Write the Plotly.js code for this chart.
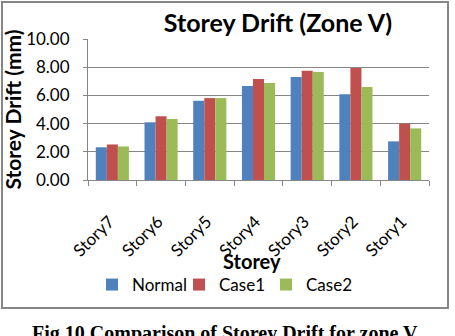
<!DOCTYPE html>
<html>
<head>
<meta charset="utf-8">
<script src="https://cdn.plot.ly/plotly-3.0.1.min.js"></script>
<style>
  html, body { margin: 0; padding: 0; background: #fff; }
  #chart { width: 455px; height: 336px; }
</style>
</head>
<body>
<div id="chart"></div>
<script>
// Storey drift per storey (mm), zone V
const storeys = ["Story7", "Story6", "Story5", "Story4", "Story3", "Story2", "Story1"];
const normal = [2.32, 4.09, 5.62, 6.66, 7.31, 6.09, 2.74];
const case1  = [2.52, 4.52, 5.81, 7.16, 7.74, 7.95, 4.00];
const case2  = [2.38, 4.33, 5.81, 6.88, 7.66, 6.59, 3.66];
const yTicks = [0, 2, 4, 6, 8, 10];
const yTickText = ["0.00", "2.00", "4.00", "6.00", "8.00", "10.00"];

const font = "Lato, 'Open Sans', sans-serif";
const serif = "Liberation Serif";
const axisGrey = "#868686";

// pixel frame of the plot area inside the 455x336 canvas
const W = 455, H = 336;
const L = 88, R = 429, T = 39, B = 180;
const px = x => (x - L) / (R - L);
const py = y => (B - y) / (B - T);

const mk = (name, y, color) => ({
  type: "bar", name: name, x: storeys, y: y,
  marker: { color: color, line: { width: 0 } },
  hoverinfo: "x+y+name"
});

const data = [
  mk("Normal", normal, "#4F81BD"),
  mk("Case1", case1, "#C0504D"),
  mk("Case2", case2, "#9BBB59")
];

const layout = {
  width: W, height: H,
  margin: { l: L, r: W - R, t: T, b: H - B, pad: 0 },
  paper_bgcolor: "#fff", plot_bgcolor: "#fff",
  font: { family: font, color: "#000" },
  barmode: "group", bargap: 0.32, bargroupgap: 0,
  showlegend: true,
  title: {
    text: "<b>Storey Drift (Zone V)</b>",
    font: { family: font, size: 25, color: "#000" },
    xref: "container", x: 278 / W, xanchor: "center",
    yref: "container", y: 1 - 23 / H, yanchor: "middle"
  },
  xaxis: {
    type: "category",
    tickangle: -45,
    tickson: "boundaries",
    ticks: "outside", ticklen: 5, tickcolor: axisGrey,
    ticklabelstandoff: 24, ticklabelshift: -3,
    showline: true, linecolor: axisGrey, linewidth: 1,
    showgrid: false,
    tickfont: { family: font, size: 17, color: "#000" }
  },
  yaxis: {
    range: [0, 10],
    tickvals: yTicks, ticktext: yTickText,
    ticks: "outside", ticklen: 4, tickcolor: axisGrey,
    ticklabelstandoff: 10,
    showline: true, linecolor: axisGrey, linewidth: 1,
    showgrid: true, gridcolor: axisGrey, gridwidth: 1,
    zeroline: false,
    tickfont: { family: font, size: 17, color: "#000" },
    title: { text: "<b>Storey Drift (mm)</b>", font: { family: font, size: 21, color: "#000" }, standoff: 4 }
  },
  legend: {
    orientation: "h",
    x: px(92), xanchor: "left",
    y: py(285), yanchor: "middle",
    font: { family: font, size: 17, color: "#000" },
    itemwidth: 30, tracegroupgap: 0,
    entrywidth: 42, entrywidthmode: "pixels",
    bgcolor: "rgba(0,0,0,0)"
  },
  shapes: [{
    type: "rect", xref: "paper", yref: "paper",
    x0: px(2), x1: px(448), y0: py(308), y1: py(2),
    line: { color: axisGrey, width: 2 }, fillcolor: "rgba(0,0,0,0)", layer: "below"
  }],
  annotations: [
    {
      // category axis title
      text: "<b>Storey</b>",
      xref: "paper", yref: "paper",
      x: px(252), xanchor: "center",
      y: py(261), yanchor: "middle",
      showarrow: false,
      font: { family: font, size: 20, color: "#000" }
    },
    {
      text: "<b>Fig.10 Comparison of Storey Drift for zone V</b>",
      xref: "paper", yref: "paper",
      x: px(225), xanchor: "center",
      y: py(320), yanchor: "top",
      showarrow: false,
      font: { family: serif, size: 20, color: "#000" }
    }
  ]
};

Plotly.newPlot("chart", data, layout, { displayModeBar: false, staticPlot: true });
</script>
</body>
</html>
